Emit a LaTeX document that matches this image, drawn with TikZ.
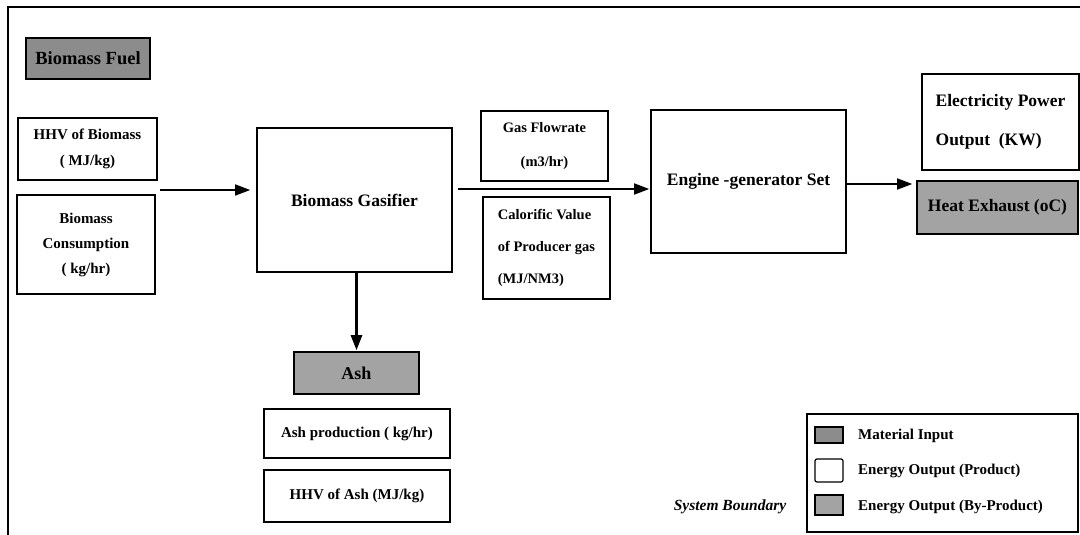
\documentclass[tikz,border=0pt]{standalone}
\usepackage{fontspec}
\setmainfont{Liberation Serif}
\usetikzlibrary{arrows.meta}
\definecolor{matgray}{gray}{0.55}
\definecolor{bygray}{gray}{0.64}
\begin{document}
\begin{tikzpicture}[x=1pt,y=-1pt,
  box/.style={draw=black, line width=1.6pt, fill=white, inner sep=0pt,
    font=\bfseries\fontsize{15}{26}\selectfont, align=center},
  mat/.style={box, fill=matgray},
  byp/.style={box, fill=bygray},
  big/.style={font=\bfseries\fontsize{17.5}{39}\selectfont},
  arr/.style={line width=1.6pt, -{Triangle[length=15pt,width=11pt]}},
  legtxt/.style={anchor=west, inner sep=0pt, font=\bfseries\fontsize{15}{18}\selectfont}]
\useasboundingbox (0,0) rectangle (1080,535);
\fill[white] (0,0) rectangle (1080,535);
% system boundary frame
\draw[line width=1.6pt] (8,535) -- (8,7) -- (1080,7);

% input side
\node[mat, minimum width=124pt, minimum height=41pt, font=\bfseries\fontsize{18.5}{22}\selectfont] (fuel) at (88,58.5) {Biomass Fuel};
\node[box, minimum width=139pt, minimum height=62pt] (hhv) at (87.5,149) {HHV of Biomass\\( MJ/kg)};
\node[box, minimum width=138pt, minimum height=99pt, font=\bfseries\fontsize{15}{25}\selectfont] (cons) at (86,244.5) {Biomass\\Consumption\\( kg/hr)};

% gasifier
\node[box, big, minimum width=195pt, minimum height=144pt] (gas) at (354.5,200) {Biomass Gasifier};

% producer gas
\node[box, minimum width=127pt, minimum height=70pt, font=\bfseries\fontsize{14.5}{34}\selectfont] (flow) at (544.5,146) {Gas Flowrate\\(m3/hr)};
\node[box, minimum width=127pt, minimum height=102pt, align=left, font=\bfseries\fontsize{14.5}{32}\selectfont] (cal) at (546.5,248) {Calorific Value\\of Producer gas\\(MJ/NM3)};

% engine
\node[box, big, minimum width=195pt, minimum height=143pt] (eng) at (748.5,181.5) {Engine -generator Set};

% outputs
\node[box, big, minimum width=157pt, minimum height=96pt, align=left] (elec) at (1000.5,122) {Electricity Power\\Output\ \ (KW)};
\node[byp, big, minimum width=161pt, minimum height=53pt] (heat) at (997.5,207.5) {Heat Exhaust (oC)};

% ash
\node[byp, minimum width=125pt, minimum height=42pt, font=\bfseries\fontsize{18}{22}\selectfont] (ash) at (356.5,373) {Ash};
\node[box, minimum width=186pt, minimum height=49pt] (ashp) at (357,433.5) {Ash production ( kg/hr)};
\node[box, minimum width=186pt, minimum height=52pt] (ashh) at (357,496) {HHV of Ash (MJ/kg)};

% connectors
\coordinate (in) at (160,190);
\draw[arr, shorten >=6pt] (in) -- (gas.west |- in);
\coordinate (gout) at (458,189);
\draw[arr, shorten >=1pt] (gout) -- (eng.west |- gout);
\coordinate (eout) at (846,184);
\draw[arr, shorten >=4pt] (eout) -- (heat.west |- eout);
\draw[arr, line width=2.6pt, shorten >=1pt] (ash.north |- gas.south) -- (ash.north);

% legend
\node[font=\bfseries\itshape\fontsize{15.5}{18}\selectfont, inner sep=0pt] (sb) at (730,507) {System Boundary};
\node[draw=black, line width=1.6pt, minimum width=271pt, minimum height=118pt, inner sep=0pt] (leg) at (942.5,473) {};
\node[draw=black, line width=1.2pt, fill=matgray, minimum width=28pt, minimum height=16pt, inner sep=0pt] (sw1) at (829,435) {};
\node[draw=black, line width=1.2pt, fill=white, rounded corners=2pt, minimum width=28pt, minimum height=23pt, inner sep=0pt] (sw2) at (829,470.5) {};
\node[draw=black, line width=1.2pt, fill=bygray, minimum width=28pt, minimum height=20pt, inner sep=0pt] (sw3) at (829,505) {};
\node[legtxt] (l1) at (858,436) {Material Input};
\node[legtxt] (l2) at (858,471) {Energy Output (Product)};
\node[legtxt] (l3) at (858,507) {Energy Output (By-Product)};
\end{tikzpicture}
\end{document}
